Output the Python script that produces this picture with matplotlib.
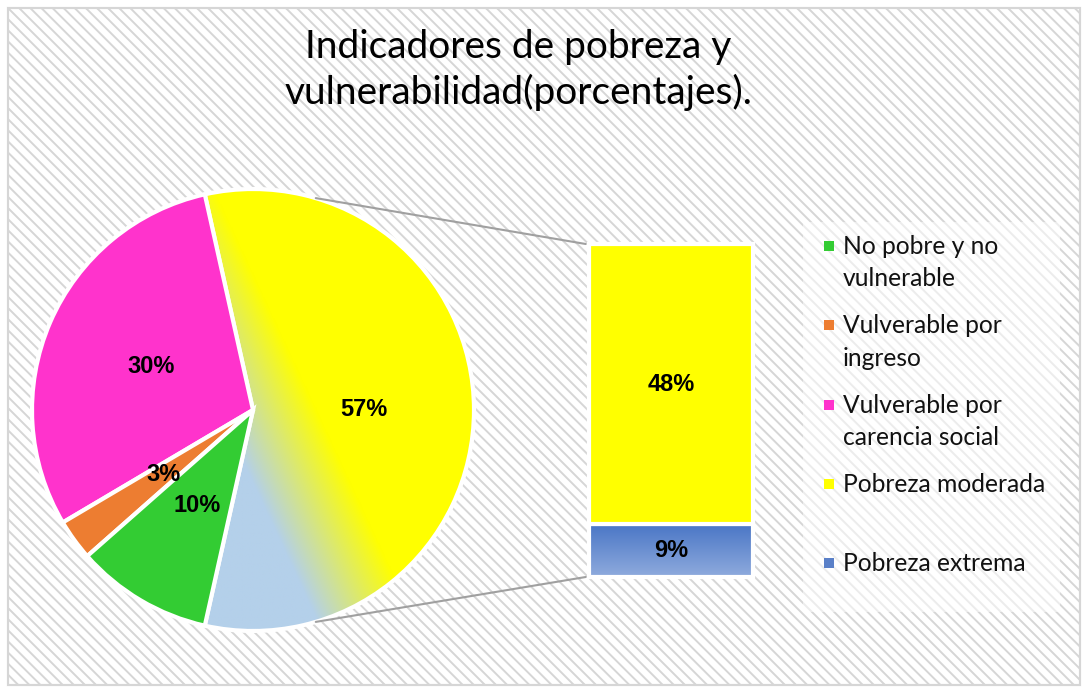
import numpy as np
import matplotlib
matplotlib.use('Agg')
import matplotlib.pyplot as plt
from matplotlib.patches import Rectangle
from matplotlib.patches import ConnectionPatch
from matplotlib.colors import to_rgb

title = 'Indicadores de pobreza y\nvulnerabilidad(porcentajes).'

# pie: combined "pobreza" slice first, then the rest counter-clockwise
pie_values = [57, 30, 3, 10]
pie_colors = ['#ffff00', '#ff33cc', '#ed7d31', '#33cc33']

# bar: breakdown of the 57%
bar_labels = ['Pobreza extrema', 'Pobreza moderada']
bar_values = [9, 48]

legend_labels = ['No pobre y no\nvulnerable', 'Vulverable por\ningreso',
                 'Vulverable por\ncarencia social', 'Pobreza moderada',
                 'Pobreza extrema']
legend_colors = ['#33cc33', '#ed7d31', '#ff33cc', '#ffff00', '#5a80c8']

W, H = 1083, 689
fig = plt.figure(figsize=(W / 100, H / 100), dpi=100)
fig.patch.set_facecolor('white')

plt.rcParams['hatch.color'] = '#e2e2e2'
plt.rcParams['hatch.linewidth'] = 1.4

# hatched chart area with thin border
bg = Rectangle((8 / W, 4 / H), 1072 / W, 677 / H, transform=fig.transFigure,
               facecolor='white', edgecolor='#d6d6d6', hatch='\\\\\\', lw=1.5,
               zorder=-5)
fig.patches.append(bg)
border = Rectangle((8 / W, 4 / H), 1072 / W, 677 / H, transform=fig.transFigure,
                   facecolor='none', edgecolor='#d6d6d6', lw=1.5, zorder=-4)
fig.patches.append(border)

fig.text(518 / W, 1 - 70 / H, title, ha='center', va='center', fontsize=28,
         family='Lato', linespacing=1.3, color='#000000')

# ---- pie ----
r_px = 221
cx, cy = 253, 410
lim = 1.1
side = r_px * 2 * lim
ax = fig.add_axes([(cx - side / 2) / W, (H - cy - side / 2) / H, side / W, side / H])
start = -pie_values[0] * 3.6 / 2
wedges, texts, autotexts = ax.pie(pie_values, colors=pie_colors, startangle=start,
                                  counterclock=True, autopct='%1.0f%%', pctdistance=0.5,
                                  wedgeprops=dict(edgecolor='white', linewidth=3),
                                  textprops=dict(fontsize=17, fontweight='bold',
                                                 family='Liberation Sans'))

# yellow -> light blue gradient on the combined slice
n = 400
gx, gy = np.meshgrid(np.linspace(-1, 1, n), np.linspace(1, -1, n))
ang = np.deg2rad(25)
t = (gx * np.cos(ang) + gy * np.sin(ang) - 0.06) / 0.4 + 0.5
t = np.clip(t, 0, 1)
c_blue = np.array(to_rgb('#b4d0ea'))
c_yel = np.array(to_rgb('#ffff00'))
img = c_blue[None, None, :] * (1 - t[..., None]) + c_yel[None, None, :] * t[..., None]
im = ax.imshow(img, extent=[-1, 1, -1, 1], zorder=0.5)
im.set_clip_path(wedges[0])
wedges[0].set_facecolor('none')
ax.set_xlim(-lim, lim)
ax.set_ylim(-lim, lim)
ax.set_aspect('auto')
ax.axis('off')

# ---- bar ----
px_per = 333 / sum(bar_values)
bx0, bx1, by0 = 589, 753, 577
bw = bx1 - bx0
bax = fig.add_axes([(bx0 - 0.05 * bw) / W, (H - by0 - px_per) / H,
                    1.1 * bw / W, (sum(bar_values) + 2) * px_per / H])
bottom = 0
bar_fc = ['none', '#ffff00']
for i, v in enumerate(bar_values):
    b = bax.bar(0, v, width=1, bottom=bottom, color=bar_fc[i], edgecolor='white',
                linewidth=3, zorder=2)
    bax.text(0, bottom + v / 2, f'{v}%', ha='center', va='center', fontsize=17,
             fontweight='bold', family='Liberation Sans', zorder=3)
    if i == 0:
        grad = np.linspace(0, 1, 100)[:, None, None]
        top_c = np.array(to_rgb('#4a76c6'))
        bot_c = np.array(to_rgb('#8fabdd'))
        gimg = top_c * (1 - grad) + bot_c * grad
        gim = bax.imshow(gimg, extent=[-0.5, 0.5, bottom, bottom + v], zorder=1.5)
        gim.set_clip_path(b.patches[0])
    bottom += v
bax.set_xlim(-0.55, 0.55)
bax.set_ylim(-1, sum(bar_values) + 1)
bax.set_aspect('auto')
bax.axis('off')

# connector lines
a_top = np.deg2rad(73.5)
con = ConnectionPatch(xyA=(-0.52, sum(bar_values)), coordsA=bax.transData,
                      xyB=(np.cos(a_top), np.sin(a_top)), coordsB=ax.transData,
                      color='#a0a0a0', lw=1.5)
fig.add_artist(con)
con = ConnectionPatch(xyA=(-0.52, 0), coordsA=bax.transData,
                      xyB=(np.cos(-a_top), np.sin(-a_top)), coordsB=ax.transData,
                      color='#a0a0a0', lw=1.5)
fig.add_artist(con)

# ---- legend ----
leg_bg = Rectangle((803 / W, 1 - 612 / H), 257 / W, 390 / H, transform=fig.transFigure,
                   facecolor='white', edgecolor='none', alpha=0.55, zorder=-3)
fig.patches.append(leg_bg)
for i, (lab, col) in enumerate(zip(legend_labels, legend_colors)):
    y = 246 + 79.3 * i
    fig.patches.append(Rectangle((824 / W, 1 - (y + 5) / H), 10 / W, 10 / H,
                                 transform=fig.transFigure, facecolor=col,
                                 edgecolor='none'))
    fig.text(843 / W, 1 - (y - 11) / H, lab, ha='left', va='top', fontsize=17.7,
             family='Lato', linespacing=1.5, color='#111111')

fig.savefig('out.png', dpi=100)
